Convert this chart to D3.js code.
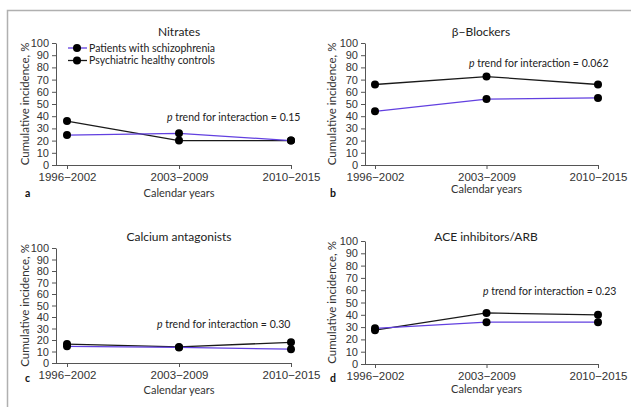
<!DOCTYPE html>
<html>
<head>
<meta charset="utf-8">
<script src="https://cdn.jsdelivr.net/npm/d3@7"></script>
<style>
  body { margin: 0; background: #fff; }
  svg { display: block; font-family: Lato, "Open Sans", sans-serif; }
</style>
</head>
<body>
<svg id="chart" width="631" height="407"></svg>
<script>
// data
const periods = ['1996\u22122002', '2003\u22122009', '2010\u22122015'];
const yTicks = [0, 10, 20, 30, 40, 50, 60, 70, 80, 90, 100];
const seriesNames = ['Patients with schizophrenia', 'Psychiatric healthy controls'];

const nitratesPatients = [24.5, 26, 20];
const nitratesControls = [36, 20, 20];
const blockersPatients = [44, 54, 55];
const blockersControls = [66, 72.5, 66];
const calciumPatients = [14.5, 13.5, 12];
const calciumControls = [16.5, 14, 18];
const acePatients = [29, 34, 34];
const aceControls = [27.5, 41.5, 40];

const titles = ['Nitrates', '\u03B2\u2212Blockers', 'Calcium antagonists', 'ACE inhibitors/ARB'];
const pTrends = ['0.15', '0.062', '0.30', '0.23'];
const letters = ['a', 'b', 'c', 'd'];

const purple = '#6240e0';
const dark = '#1a1a1a';
const grey = '#555';

// layout for each panel (pixels)
const panels = [
  { ax: 56, top: 43, bottom: 165, x0: 67, x1: 291, titleX: 179, titleY: 36, tickY: 181, calY: 197, letterX: 25, letterY: 197, labelX: 25, noteX: 167, noteY: 121,
    patients: nitratesPatients, controls: nitratesControls, legend: true },
  { ax: 365, top: 43, bottom: 165, x0: 375, x1: 598, titleX: 481, titleY: 36, tickY: 181, calY: 193, letterX: 330, letterY: 197, labelX: 332, noteX: 469, noteY: 67,
    patients: blockersPatients, controls: blockersControls },
  { ax: 56, top: 248, bottom: 363, x0: 67, x1: 291, titleX: 179, titleY: 241, tickY: 379, calY: 394, letterX: 25, letterY: 382, labelX: 25, noteX: 157, noteY: 328,
    patients: calciumPatients, controls: calciumControls },
  { ax: 365, top: 241, bottom: 364, x0: 375, x1: 598, titleX: 486, titleY: 241, tickY: 380, calY: 393, letterX: 330, letterY: 382, labelX: 332, noteX: 483, noteY: 295,
    patients: acePatients, controls: aceControls }
];

const svg = d3.select('#chart');

// figure frame: top and left rule only
svg.append('path')
  .attr('d', 'M7.5,407 V10.5 H631')
  .attr('fill', 'none')
  .attr('stroke', '#b0b0b0')
  .attr('stroke-width', 1.5);

panels.forEach((p, i) => {
  const g = svg.append('g');
  const x = d3.scalePoint().domain(periods).range([p.x0, p.x1]);
  const y = d3.scaleLinear().domain([0, 100]).range([p.bottom, p.top]);

  // y axis
  const yAxis = g.append('g')
    .attr('transform', `translate(${p.ax},0)`)
    .call(d3.axisLeft(y).tickValues(yTicks).tickSize(4).tickSizeOuter(0).tickPadding(3));
  yAxis.select('.domain').attr('stroke', grey);
  yAxis.selectAll('.tick line').attr('stroke', grey);
  yAxis.selectAll('.tick text').attr('fill', '#333').style('font-size', '11px');

  // x axis
  const xAxis = g.append('g')
    .attr('transform', `translate(0,${p.bottom})`)
    .call(d3.axisBottom(x).tickSize(4).tickSizeOuter(0).tickPadding(3));
  xAxis.select('.domain').remove();
  xAxis.selectAll('.tick line').attr('stroke', grey);
  xAxis.selectAll('.tick text').attr('fill', '#333').style('font-size', '11.5px')
    .attr('y', null).attr('dy', null)
    .attr('transform', `translate(0,${p.tickY - p.bottom})`);
  g.append('line')
    .attr('x1', p.ax).attr('x2', p.x1)
    .attr('y1', p.bottom + 0.5).attr('y2', p.bottom + 0.5)
    .attr('stroke', grey);

  // titles and labels
  g.append('text').attr('x', p.titleX).attr('y', p.titleY)
    .attr('text-anchor', 'middle').attr('fill', '#222').style('font-size', '12px')
    .text(titles[i]);
  g.append('text').attr('x', (p.x0 + p.x1) / 2).attr('y', p.calY)
    .attr('text-anchor', 'middle').attr('fill', '#333').style('font-size', '11px')
    .text('Calendar years');
  g.append('text').attr('x', p.letterX).attr('y', p.letterY)
    .attr('fill', '#111').style('font-size', '10.5px').style('font-weight', 'bold')
    .text(letters[i]);
  g.append('text')
    .attr('transform', `translate(${p.labelX + 4},${(p.top + p.bottom) / 2}) rotate(-90)`)
    .attr('text-anchor', 'middle').attr('fill', '#333').style('font-size', '11.5px')
    .text('Cumulative incidence, %');

  const note = g.append('text').attr('x', p.noteX).attr('y', p.noteY)
    .attr('fill', '#222').style('font-size', '10.5px');
  note.append('tspan').style('font-style', 'italic').text('p');
  note.append('tspan').text(` trend for interaction = ${pTrends[i]}`);

  // lines
  const line = d3.line().x((d, j) => x(periods[j])).y(d => y(d));
  [[p.controls, dark], [p.patients, purple]].forEach(([vals, col]) => {
    g.append('path').datum(vals)
      .attr('d', line).attr('fill', 'none')
      .attr('stroke', col).attr('stroke-width', 1.3);
  });
  [p.controls, p.patients].forEach(vals => {
    g.selectAll(null).data(vals).join('circle')
      .attr('cx', (d, j) => x(periods[j]))
      .attr('cy', d => y(d))
      .attr('r', 4)
      .attr('fill', '#000');
  });

  // legend (panel a only)
  if (p.legend) {
    const leg = g.append('g');
    [purple, dark].forEach((col, k) => {
      const ly = 48 + k * 12.5;
      leg.append('line').attr('x1', 68).attr('x2', 87).attr('y1', ly).attr('y2', ly)
        .attr('stroke', col).attr('stroke-width', 1.3);
      leg.append('circle').attr('cx', 77).attr('cy', ly).attr('r', 4).attr('fill', '#000');
      leg.append('text').attr('x', 89).attr('y', ly + 3.5)
        .attr('fill', '#222').style('font-size', '10.5px')
        .text(seriesNames[k]);
    });
  }
});
</script>
</body>
</html>
